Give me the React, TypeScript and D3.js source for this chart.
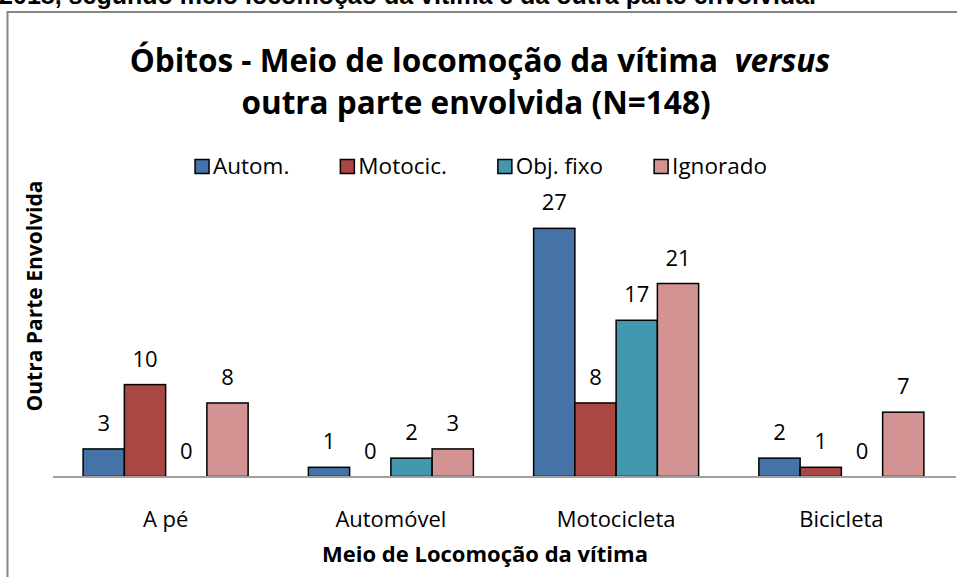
import React, { useEffect, useRef } from "react";
import * as d3 from "d3";

// Chart data
const categories = ["A pé", "Automóvel", "Motocicleta", "Bicicleta"];
const seriesNames = ["Autom.", "Motocic.", "Obj. fixo", "Ignorado"];
const automValues = [3, 1, 27, 2];
const motocicValues = [10, 0, 8, 1];
const objFixoValues = [0, 2, 17, 0];
const ignoradoValues = [8, 3, 21, 7];
const seriesColors = ["#4572A7", "#AA4643", "#4198AF", "#D39392"];

const topCaption = "2018, segundo meio locomoção da vítima e da outra parte envolvida.";
const titleLine1 = "Óbitos - Meio de locomoção da vítima  ";
const titleItalic = "versus";
const titleLine2 = "outra parte envolvida (N=148)";
const xAxisTitle = "Meio de Locomoção da vítima";
const yAxisTitle = "Outra Parte Envolvida";

const FONT = "'Open Sans', 'DejaVu Sans', sans-serif";

const App: React.FC = () => {
  const chartRef = useRef<SVGSVGElement | null>(null);

  useEffect(() => {
    const svg = d3.select(chartRef.current);
    svg.selectAll("*").remove();

    const width = 957,
      height = 577,
      margin = { left: 53, right: 3, baseline: 476.5 };

    const allSeries = [automValues, motocicValues, objFixoValues, ignoradoValues];

    // Caption from the page above the chart (cut off at the top, as in the source)
    svg
      .append("text")
      .attr("x", 816)
      .attr("y", 4)
      .attr("text-anchor", "end")
      .attr("font-family", "'Liberation Sans', Arial, sans-serif")
      .attr("font-weight", "bold")
      .attr("font-size", 25)
      .text(topCaption);

    // Chart frame
    svg
      .append("path")
      .attr("d", `M7.5,${height} V12 H${width}`)
      .attr("fill", "none")
      .attr("stroke", "#868686")
      .attr("stroke-width", 2);

    // Title
    const title = svg
      .append("text")
      .attr("x", 480)
      .attr("text-anchor", "middle")
      .attr("font-family", FONT)
      .attr("font-weight", "bold")
      .attr("font-size", 31.5)
      .style("white-space", "pre");
    const t1 = title.append("tspan").attr("x", 480).attr("y", 72);
    t1.append("tspan").text(titleLine1);
    t1.append("tspan").attr("font-style", "italic").text(titleItalic);
    title.append("tspan").attr("x", 476).attr("y", 114).text(titleLine2);

    // Scales
    const x0 = d3
      .scaleBand<string>()
      .domain(categories)
      .range([margin.left, width - margin.right])
      .paddingInner(0)
      .paddingOuter(0);

    const x1 = d3
      .scaleBand<string>()
      .domain(seriesNames)
      .range([0, x0.bandwidth()])
      .paddingInner(0)
      .paddingOuter(0.73);

    const y = d3
      .scaleLinear()
      .domain([0, 30])
      .range([margin.baseline, margin.baseline - 30 * 9.19]);

    // Bars
    const rows = categories.flatMap((cat, i) =>
      seriesNames.map((s, j) => ({ cat, s, j, value: allSeries[j][i] }))
    );

    svg
      .append("g")
      .selectAll("rect")
      .data(rows.filter((d) => d.value > 0))
      .enter()
      .append("rect")
      .attr("x", (d) => (x0(d.cat) ?? 0) + (x1(d.s) ?? 0))
      .attr("y", (d) => y(d.value))
      .attr("width", x1.bandwidth())
      .attr("height", (d) => y(0) - y(d.value))
      .attr("fill", (d) => seriesColors[d.j])
      .attr("stroke", "#000")
      .attr("stroke-width", 1.5);

    // Value labels
    svg
      .append("g")
      .selectAll("text")
      .data(rows)
      .enter()
      .append("text")
      .attr("x", (d) => (x0(d.cat) ?? 0) + (x1(d.s) ?? 0) + x1.bandwidth() / 2)
      .attr("y", (d) => y(d.value) - 18)
      .attr("text-anchor", "middle")
      .attr("font-family", FONT)
      .attr("font-size", 22)
      .attr("fill", "#000")
      .text((d) => String(d.value));

    // X axis line
    svg
      .append("line")
      .attr("x1", margin.left)
      .attr("x2", width - margin.right + 2)
      .attr("y1", y(0) + 0.5)
      .attr("y2", y(0) + 0.5)
      .attr("stroke", "#A0A0A0")
      .attr("stroke-width", 2);

    // Category labels
    svg
      .append("g")
      .selectAll("text")
      .data(categories)
      .enter()
      .append("text")
      .attr("x", (d) => (x0(d) ?? 0) + x0.bandwidth() / 2)
      .attr("y", 527)
      .attr("text-anchor", "middle")
      .attr("font-family", FONT)
      .attr("font-size", 22)
      .text((d) => d);

    // Axis titles
    svg
      .append("text")
      .attr("x", 485)
      .attr("y", 562)
      .attr("text-anchor", "middle")
      .attr("font-family", FONT)
      .attr("font-weight", "bold")
      .attr("font-size", 22)
      .text(xAxisTitle);

    svg
      .append("text")
      .attr("transform", "translate(42,296) rotate(-90)")
      .attr("text-anchor", "middle")
      .attr("font-family", FONT)
      .attr("font-weight", "bold")
      .attr("font-size", 21)
      .text(yAxisTitle);

    // Legend, laid out from measured text widths and centred
    const legend = svg.append("g");
    const items = legend
      .selectAll("g")
      .data(seriesNames)
      .enter()
      .append("g");
    items
      .append("rect")
      .attr("x", 0)
      .attr("y", 159.5)
      .attr("width", 14)
      .attr("height", 14)
      .attr("fill", (_, i) => seriesColors[i])
      .attr("stroke", "#000")
      .attr("stroke-width", 1.5);
    const labels = items
      .append("text")
      .attr("x", 18)
      .attr("y", 174)
      .attr("font-family", FONT)
      .attr("font-size", 22.5)
      .text((d) => d);

    const widths = labels.nodes().map((n) => (n as SVGTextElement).getComputedTextLength());
    const itemW = widths.map((w) => 18 + w);
    const spacing = 51;
    const total = d3.sum(itemW) + spacing * (itemW.length - 1);
    let cursor = 481 - total / 2;
    items.attr("transform", (_, i) => {
      const tx = cursor;
      cursor += itemW[i] + spacing;
      return `translate(${tx},0)`;
    });
  }, []);

  return (
    <svg
      ref={chartRef}
      width={957}
      height={577}
      style={{ position: "absolute", left: 0, top: 0, background: "#fff" }}
    ></svg>
  );
};

export default App;
